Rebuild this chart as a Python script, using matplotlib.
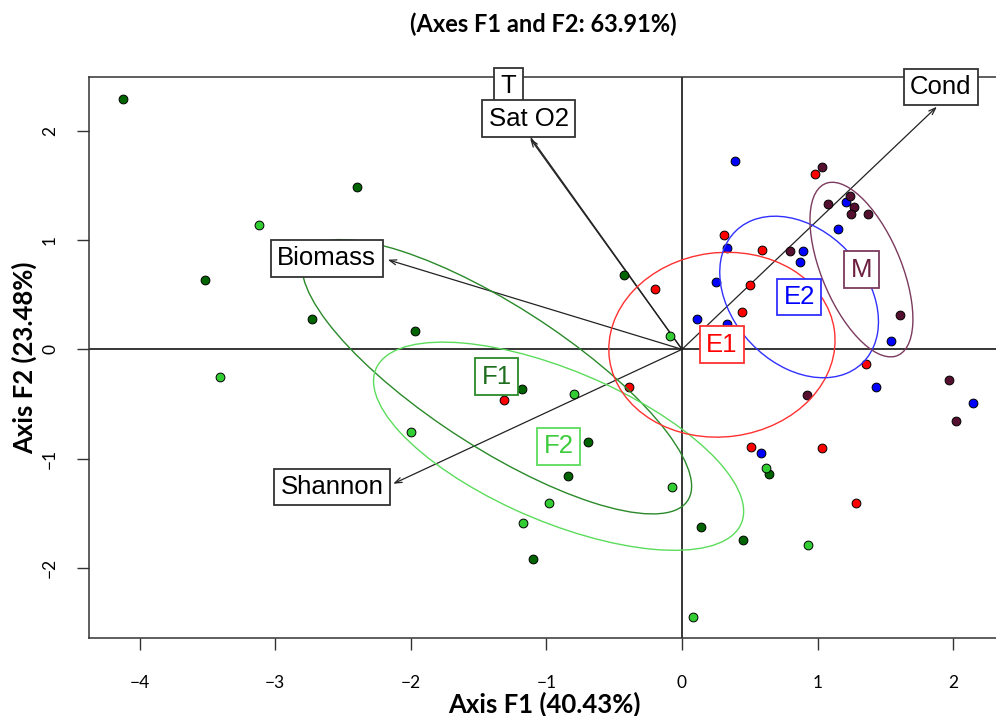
import numpy as np
import matplotlib.pyplot as plt
from matplotlib.patches import Ellipse

# site scores on F1 / F2, one pair of lists per group
f1_x = [-4.12, -2.40, -3.52, -2.73, -1.97, -0.43, -1.18, -0.69, 0.64, -0.84, 0.14, 0.45, -1.10]
f1_y = [2.29, 1.49, 0.63, 0.28, 0.17, 0.68, -0.36, -0.85, -1.14, -1.16, -1.63, -1.74, -1.92]

f2_x = [-3.12, -3.41, -0.09, -0.80, -2.00, 0.62, -0.07, -0.98, -1.17, 0.93, 0.08]
f2_y = [1.14, -0.25, 0.12, -0.41, -0.76, -1.09, -1.26, -1.41, -1.59, -1.79, -2.45]

e1_x = [0.98, 0.31, 0.59, -0.20, 0.50, 0.44, 1.36, -1.31, -0.39, 0.51, 1.03, 1.28, -1.27]
e1_y = [1.60, 1.05, 0.91, 0.55, 0.59, 0.34, -0.13, -0.46, -0.34, -0.89, -0.90, -1.41, -0.36]

e2_x = [0.39, 1.21, 1.15, 0.33, 0.89, 0.87, 0.25, 0.11, 0.33, 1.54, 1.43, 2.15, 0.58]
e2_y = [1.72, 1.35, 1.10, 0.93, 0.90, 0.80, 0.62, 0.28, 0.23, 0.08, -0.34, -0.49, -0.95]

m_x = [1.03, 1.24, 1.08, 1.27, 1.25, 1.37, 0.80, 1.61, 1.97, 0.92, 2.02]
m_y = [1.67, 1.40, 1.33, 1.30, 1.24, 1.24, 0.90, 0.31, -0.28, -0.42, -0.66]

# variable arrows: tip and label position
var_names = ['Cond', 'T', 'Sat O2', 'Biomass', 'Shannon']
var_tip_x = [1.88, -1.22, -1.12, -2.17, -2.13]
var_tip_y = [2.22, 2.12, 1.93, 0.82, -1.23]
var_lab_x = [1.91, -1.28, -1.13, -2.62, -2.58]
var_lab_y = [2.40, 2.41, 2.11, 0.835, -1.26]

groups = [
    ('F1', f1_x, f1_y, '#006400', '#2a8a2a', '#1e6e1e'),
    ('F2', f2_x, f2_y, '#32cd32', '#5cdc5c', '#3ccc3c'),
    ('E1', e1_x, e1_y, '#ff0000', '#ff3030', '#ff0000'),
    ('E2', e2_x, e2_y, '#0000ff', '#3030ff', '#0000ff'),
    ('M', m_x, m_y, '#55102f', '#7b3a5e', '#6b2040'),
]


def cov_ellipse(x, y):
    x = np.asarray(x)
    y = np.asarray(y)
    vals, vecs = np.linalg.eigh(np.cov(x, y, bias=True))
    order = vals.argsort()[::-1]
    vals, vecs = vals[order], vecs[:, order]
    angle = np.degrees(np.arctan2(vecs[1, 0], vecs[0, 0]))
    return x.mean(), y.mean(), 2 * np.sqrt(vals[0]), 2 * np.sqrt(vals[1]), angle


fig = plt.figure(figsize=(9.96, 7.16), dpi=100)
ax = fig.add_axes([0.0897, 0.1085, 0.9103, 0.7835])
ax.set_xlim(-4.371, 2.316)
ax.set_ylim(-2.644, 2.489)

ax.axhline(0, color='black', lw=1.1, zorder=1)
ax.axvline(0, color='black', lw=1.1, zorder=1)

for i in range(len(var_names)):
    ax.annotate('', xy=(var_tip_x[i], var_tip_y[i]), xytext=(0, 0),
                arrowprops=dict(arrowstyle='->,head_length=0.5,head_width=0.18',
                                color='#222222', lw=0.9, shrinkA=0, shrinkB=0),
                zorder=2)

for name, gx, gy, pc, ec, tc in groups:
    ax.scatter(gx, gy, s=40, c=pc, edgecolors='black', linewidths=0.7, zorder=3)

for name, gx, gy, pc, ec, tc in groups:
    cx, cy, w, h, ang = cov_ellipse(gx, gy)
    ax.add_patch(Ellipse((cx, cy), w, h, angle=ang, fill=False, ec=ec, lw=1.0, zorder=4))
    ax.text(cx, cy, name, ha='center', va='center', fontsize=18.5,
            family='Liberation Sans', color=tc, zorder=6,
            bbox=dict(boxstyle='square,pad=0.25', fc='white', ec=ec, lw=1.3))

for i in range(len(var_names)):
    ax.text(var_lab_x[i], var_lab_y[i], var_names[i], ha='center', va='center',
            fontsize=18.5, family='Liberation Sans', color='black', zorder=7,
            bbox=dict(boxstyle='square,pad=0.25', fc='white', ec='#333333', lw=1.3))

ax.set_xticks([-4, -3, -2, -1, 0, 1, 2])
ax.set_yticks([-2, -1, 0, 1, 2])
ax.tick_params(axis='both', length=8.5, width=1, color='#333333',
               labelsize=12.5, labelfontfamily='Lato')
ax.tick_params(axis='x', pad=18)
ax.tick_params(axis='y', pad=14)
plt.setp(ax.get_yticklabels(), rotation=90, va='center')
for s in ['left', 'bottom', 'top']:
    ax.spines[s].set_linewidth(1.1)
    ax.spines[s].set_color('#333333')
ax.spines['right'].set_visible(False)

fig.text(0.545, 1 - 24 / 716, '(Axes F1 and F2: 63.91%)', ha='center', va='center',
         fontsize=17, fontweight='bold', family='Lato')
fig.text(0.547, 1 - 704 / 716, 'Axis F1 (40.43%)', ha='center', va='center',
         fontsize=18.5, fontweight='bold', family='Lato')
fig.text(24 / 996, 1 - 358 / 716, 'Axis F2 (23.48%)', ha='center', va='center',
         rotation=90, fontsize=18.5, fontweight='bold', family='Lato')

fig.savefig('out.png', dpi=100)
